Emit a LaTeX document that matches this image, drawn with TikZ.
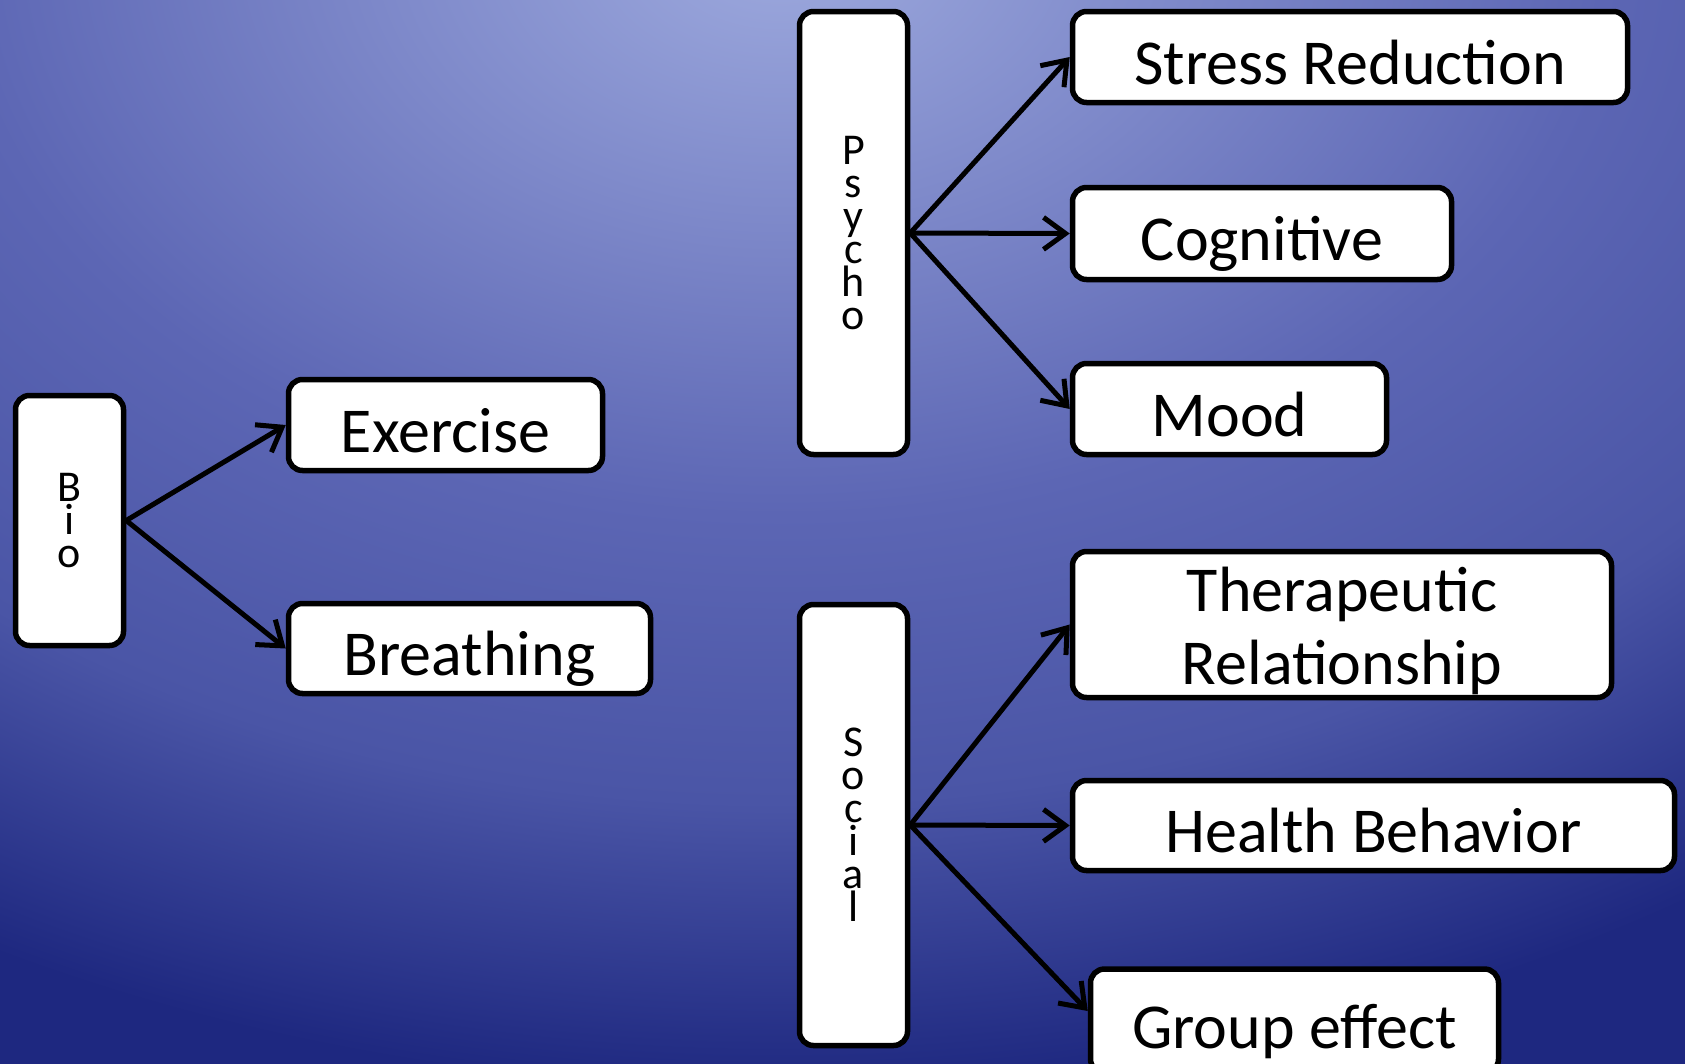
\documentclass[tikz,border=0pt]{standalone}
\usepackage{fontspec}
\setmainfont{Carlito}
\usetikzlibrary{arrows.meta}
\definecolor{bglight}{RGB}{158,170,222}
\definecolor{bgmid}{RGB}{92,102,180}
\definecolor{bgmidd}{RGB}{74,85,166}
\definecolor{bgdark}{RGB}{30,40,128}
\pgfdeclareradialshading{bgglow}{\pgfpointorigin}{color(0bp)=(bglight); color(12.5bp)=(bgmid); color(18.75bp)=(bgmidd); color(25bp)=(bgdark); color(50bp)=(bgdark)}

\begin{document}
\begin{tikzpicture}[x=1pt, y=-1pt,
  ibox/.style={draw, line width=5.5pt, fill=white, rounded corners=14pt, inner sep=0pt, align=center, font=\fontsize{64}{73}\selectfont, text height=54pt, text depth=0pt},
  stackbox/.style={draw, line width=5.5pt, fill=white, rounded corners=14pt, inner sep=0pt, align=center, minimum width=108pt, font=\fontsize{44}{33}\selectfont},
  link/.style={line width=5pt, -{Straight Barb[length=22pt, width=32pt]}}
]
  \useasboundingbox (0,0) rectangle (1685,1063);
  \fill[bgdark] (-10,-10) rectangle (1695,1073);
  \begin{scope}
    \clip (-10,-10) rectangle (1695,1073);
    \shade[shading=bgglow] (780,-60) ellipse [x radius=1650pt, y radius=1150pt];
  \end{scope}

  \node[stackbox, minimum height=250pt] (bio) at (69.5,520.5) {B\\i\\o};
  \node[ibox, minimum width=314pt, minimum height=91pt] (exercise) at (445.5,425) {Exercise};
  \node[ibox, minimum width=362pt, minimum height=90pt] (breathing) at (469.5,648.5) {Breathing};

  \node[stackbox, minimum height=443pt] (psycho) at (853.5,233) {P\\s\\y\\c\\h\\o};
  \node[ibox, minimum width=555pt, minimum height=91pt] (stress) at (1350,57) {Stress Reduction};
  \node[ibox, minimum width=379pt, minimum height=92pt] (cognitive) at (1262,233.5) {Cognitive};
  \node[ibox, minimum width=314pt, minimum height=91pt] (mood) at (1229.5,409) {Mood};

  \node[stackbox, minimum height=441pt] (social) at (853.5,825) {S\\o\\c\\i\\a\\l};
  \node[ibox, minimum width=539pt, minimum height=138pt, text height=, text depth=] (therapeutic) at (1342,624.5)
    {\raisebox{-9pt}[\height][\depth]{\begin{tabular}{@{}c@{}}Therapeutic\\Relationship\end{tabular}}};
  \node[ibox, minimum width=408pt, minimum height=104pt] (group) at (1294.5,1021) {Group effect};
  \node[ibox, minimum width=602pt, minimum height=90pt] (health) at (1373.5,825.5) {Health Behavior};

  \draw[link] (bio.east) -- (exercise.west);
  \draw[link] (bio.east) -- (breathing.west);
  \draw[link] (psycho.east) -- (stress.west);
  \draw[link] (psycho.east) -- (cognitive.west);
  \draw[link] (psycho.east) -- (mood.west);
  \draw[link] (social.east) -- (therapeutic.west);
  \draw[link] (social.east) -- (health.west);
  \draw[link] (social.east) -- ([yshift=10pt]group.west);
\end{tikzpicture}
\end{document}
